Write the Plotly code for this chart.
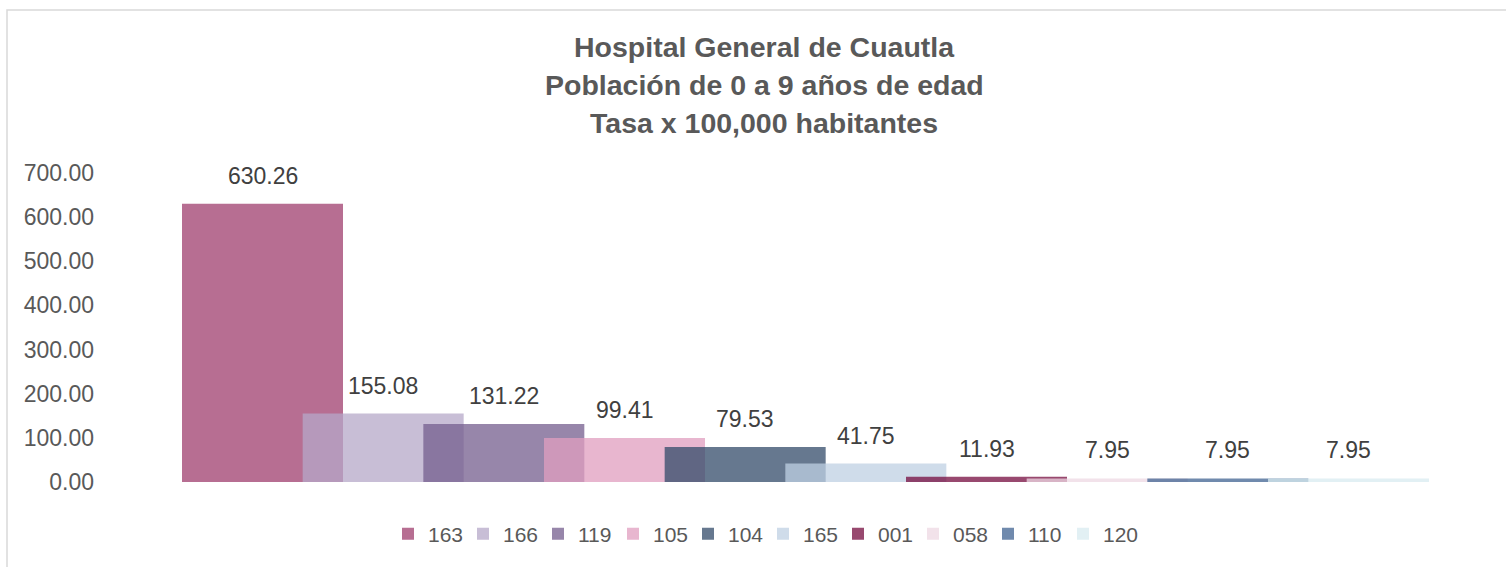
import plotly.graph_objects as go

# Datos: municipios (claves) y tasa por 100,000 habitantes
claves = ["163", "166", "119", "105", "104", "165", "001", "058", "110", "120"]
tasas = [630.26, 155.08, 131.22, 99.41, 79.53, 41.75, 11.93, 7.95, 7.95, 7.95]

# colores base (se dibujan con alfa 0.75 como en Excel)
colores = ["#9f3d6d", "#b6a8c8", "#745e8e", "#e09ebf", "#334b6a",
           "#bfd0e3", "#760c3f", "#eed8e3", "#406392", "#d8ebf0"]

titulo = ["Hospital General de Cuautla",
          "Población de 0 a 9 años de edad",
          "Tasa x 100,000 habitantes"]


def rgba(h, a=0.75):
    h = h.lstrip("#")
    r, g, b = int(h[0:2], 16), int(h[2:4], 16), int(h[4:6], 16)
    return f"rgba({r},{g},{b},{a})"


W, H = 1506, 567
L, R, T, B = 105, 16, 173, 85
PW, PH = W - L - R, H - T - B

FONT = "Liberation Sans, Arial, sans-serif"


def py2paper(py):
    return (H - B - py) / PH


def px2paper(px):
    return (px - L) / PW


# geometria de barras estilo Excel (se traslapan)
step_px = (1348.5 - 262.5) / 9
x_lo = -(262.5 - L) / step_px
x_hi = 9 + (L + PW - 1348.5) / step_px
ancho = 161 / step_px

fig = go.Figure()
for i, (c, v, col) in enumerate(zip(claves, tasas, colores)):
    fig.add_trace(go.Bar(
        x=[i], y=[v], name=c, width=ancho,
        marker=dict(color=rgba(col), line=dict(width=0)),
        hoverinfo="name+y",
    ))
    fig.add_annotation(
        x=i, y=v, text=f"{v:.2f}", showarrow=False,
        yanchor="bottom", yshift=13,
        font=dict(family=FONT, size=23, color="#404040"),
    )

for k, linea in enumerate(titulo):
    fig.add_annotation(
        xref="paper", yref="paper", x=px2paper(764), y=py2paper(47 + 38 * k),
        xanchor="center", yanchor="middle", showarrow=False,
        text=f"<b>{linea}</b>",
        font=dict(family=FONT, size=28.5, color="#595959"),
    )

fig.add_shape(
    type="rect", xref="paper", yref="paper",
    x0=px2paper(7), x1=px2paper(W + 5),
    y0=py2paper(H + 5), y1=py2paper(10),
    line=dict(color="#d9d9d9", width=1.5), fillcolor="rgba(0,0,0,0)",
    layer="below",
)

fig.update_layout(
    width=W, height=H,
    barmode="overlay",
    plot_bgcolor="white", paper_bgcolor="white",
    margin=dict(l=L, r=R, t=T, b=B),
    font=dict(family=FONT, color="#595959"),
    xaxis=dict(range=[x_lo, x_hi], showticklabels=False, showgrid=False,
               zeroline=False, showline=False, fixedrange=True),
    yaxis=dict(range=[0, 700], dtick=100, tickformat=".2f", showgrid=False,
               zeroline=False, showline=False, ticks="",
               ticklabelstandoff=10,
               tickfont=dict(family=FONT, size=23, color="#595959")),
    legend=dict(orientation="h", x=px2paper(763), xanchor="center",
                y=py2paper(534), yanchor="middle",
                entrywidth=30, entrywidthmode="pixels",
                itemwidth=30, traceorder="normal",
                font=dict(family=FONT, size=21, color="#595959")),
    showlegend=True,
)

fig.write_html("out.html", config={"displayModeBar": False},
               post_script="document.body.style.margin='0';")
